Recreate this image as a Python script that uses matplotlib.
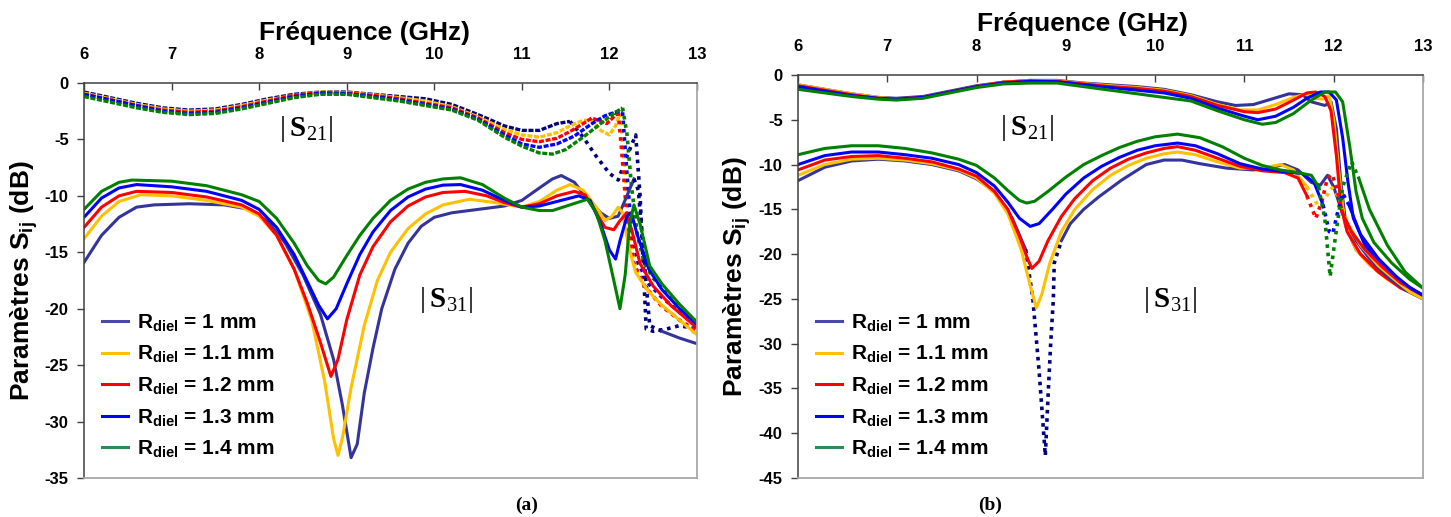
import numpy as np
import matplotlib
matplotlib.use("Agg")
import matplotlib.pyplot as plt
from matplotlib.lines import Line2D

plt.rcParams['mathtext.fontset'] = 'custom'
plt.rcParams['mathtext.rm'] = 'Liberation Serif'
plt.rcParams['mathtext.bf'] = 'Liberation Serif:bold'
plt.rcParams['axes.unicode_minus'] = False

# ---------------- data ----------------
labels = ["1 mm", "1.1 mm", "1.2 mm", "1.3 mm", "1.4 mm"]

# panel (a) |S21|
a21_f = [
    [6.0, 6.3, 6.6, 6.9, 7.2, 7.5, 7.8, 8.1, 8.4, 8.7, 9.0, 9.3, 9.6, 9.9, 10.2, 10.5, 10.8, 11.0, 11.2, 11.4, 11.55, 11.7, 11.85, 12.0, 12.1, 12.2, 12.3, 12.35, 12.42, 12.5, 12.65, 12.8, 13.0],
    [6.0, 6.3, 6.6, 6.9, 7.2, 7.5, 7.8, 8.1, 8.4, 8.7, 9.0, 9.3, 9.6, 9.9, 10.2, 10.5, 10.8, 11.0, 11.2, 11.4, 11.55, 11.7, 11.8, 11.9, 12.0, 12.07, 12.12, 12.17, 12.22, 12.3, 12.4, 12.6, 12.8, 13.0],
    [6.0, 6.3, 6.6, 6.9, 7.2, 7.5, 7.8, 8.1, 8.4, 8.7, 9.0, 9.3, 9.6, 9.9, 10.2, 10.5, 10.8, 11.0, 11.2, 11.4, 11.55, 11.7, 11.8, 11.9, 11.97, 12.05, 12.1, 12.14, 12.2, 12.28, 12.4, 12.6, 12.8, 13.0],
    [6.0, 6.3, 6.6, 6.9, 7.2, 7.5, 7.8, 8.1, 8.4, 8.7, 9.0, 9.3, 9.6, 9.9, 10.2, 10.5, 10.8, 11.0, 11.2, 11.4, 11.6, 11.8, 11.95, 12.1, 12.15, 12.2, 12.25, 12.33, 12.45, 12.6, 12.8, 13.0],
    [6.0, 6.3, 6.6, 6.9, 7.2, 7.5, 7.8, 8.1, 8.4, 8.7, 9.0, 9.3, 9.6, 9.9, 10.2, 10.5, 10.8, 11.0, 11.2, 11.35, 11.5, 11.7, 11.9, 12.05, 12.15, 12.2, 12.25, 12.32, 12.4, 12.5, 12.7, 12.85, 13.0],
]
a21_v = [
    [-0.8, -1.3, -1.8, -2.2, -2.4, -2.3, -1.9, -1.4, -1.0, -0.8, -0.8, -1.0, -1.2, -1.4, -1.9, -2.8, -3.8, -4.2, -4.2, -3.6, -3.4, -4.8, -6.5, -8.0, -8.6, -6.5, -4.6, -10.0, -21.8, -22.0, -21.8, -21.5, -21.8],
    [-0.9, -1.4, -1.9, -2.3, -2.5, -2.4, -2.0, -1.5, -1.1, -0.8, -0.85, -1.05, -1.3, -1.6, -2.1, -3.0, -4.1, -4.6, -4.8, -4.4, -3.8, -3.3, -3.3, -4.2, -4.6, -3.8, -2.7, -7.0, -12.5, -16.5, -18.0, -19.8, -21.0, -22.3],
    [-1.0, -1.5, -2.0, -2.4, -2.6, -2.5, -2.1, -1.6, -1.1, -0.85, -0.9, -1.1, -1.4, -1.8, -2.2, -3.1, -4.4, -5.0, -5.2, -4.9, -4.3, -3.6, -3.1, -3.4, -3.6, -3.0, -2.6, -6.0, -12.0, -16.0, -18.0, -19.8, -21.0, -22.0],
    [-1.0, -1.5, -2.0, -2.5, -2.7, -2.6, -2.2, -1.7, -1.2, -0.9, -0.95, -1.2, -1.5, -1.9, -2.3, -3.2, -4.6, -5.4, -5.7, -5.4, -4.7, -3.6, -2.9, -2.5, -2.6, -8.0, -13.0, -16.0, -17.8, -19.0, -20.3, -21.6],
    [-1.2, -1.7, -2.2, -2.6, -2.8, -2.7, -2.3, -1.8, -1.3, -1.0, -1.0, -1.3, -1.6, -2.0, -2.4, -3.3, -4.8, -5.6, -6.2, -6.3, -5.9, -4.8, -3.6, -2.7, -2.2, -4.5, -9.0, -13.5, -16.0, -17.3, -19.0, -20.2, -21.2],
]

# panel (a) |S31|
a31_f = [
    [6.0, 6.2, 6.4, 6.6, 6.8, 7.2, 7.6, 7.9, 8.1, 8.3, 8.5, 8.7, 8.85, 8.95, 9.05, 9.12, 9.2, 9.3, 9.4, 9.55, 9.7, 9.85, 10.0, 10.2, 10.5, 10.8, 11.0, 11.2, 11.35, 11.45, 11.6, 11.75, 11.9, 12.0, 12.1, 12.2, 12.28, 12.33, 12.4, 12.46, 12.6, 12.8, 13.0],
    [6.0, 6.2, 6.4, 6.65, 7.0, 7.4, 7.8, 8.0, 8.2, 8.4, 8.6, 8.75, 8.85, 8.9, 8.95, 9.05, 9.2, 9.35, 9.5, 9.7, 9.9, 10.1, 10.4, 10.7, 11.0, 11.2, 11.4, 11.55, 11.7, 11.85, 11.95, 12.03, 12.1, 12.15, 12.22, 12.3, 12.45, 12.6, 12.8, 13.0],
    [6.0, 6.2, 6.4, 6.6, 7.0, 7.4, 7.8, 8.0, 8.2, 8.4, 8.55, 8.7, 8.82, 8.9, 9.0, 9.15, 9.3, 9.5, 9.7, 9.9, 10.1, 10.35, 10.6, 10.8, 11.0, 11.2, 11.4, 11.6, 11.72, 11.85, 11.95, 12.05, 12.12, 12.2, 12.27, 12.35, 12.5, 12.7, 12.85, 13.0],
    [6.0, 6.2, 6.4, 6.6, 7.0, 7.4, 7.8, 8.0, 8.2, 8.4, 8.55, 8.68, 8.78, 8.88, 9.0, 9.15, 9.3, 9.5, 9.7, 9.9, 10.1, 10.3, 10.55, 10.8, 11.0, 11.2, 11.45, 11.65, 11.78, 11.9, 12.0, 12.07, 12.12, 12.2, 12.25, 12.32, 12.45, 12.6, 12.8, 13.0],
    [6.0, 6.2, 6.4, 6.55, 7.0, 7.4, 7.8, 8.0, 8.2, 8.4, 8.55, 8.68, 8.76, 8.85, 9.0, 9.15, 9.3, 9.5, 9.7, 9.9, 10.1, 10.3, 10.55, 10.8, 11.0, 11.2, 11.35, 11.55, 11.75, 11.85, 11.95, 12.05, 12.12, 12.18, 12.23, 12.28, 12.35, 12.46, 12.6, 12.8, 13.0],
]
a31_v = [
    [-15.9, -13.5, -11.9, -11.0, -10.8, -10.7, -10.8, -11.2, -12.3, -14.2, -17.0, -20.5, -24.5, -28.5, -33.2, -32.0, -27.5, -23.5, -20.0, -16.5, -14.2, -12.7, -11.9, -11.5, -11.2, -10.9, -10.4, -9.3, -8.5, -8.2, -8.8, -10.3, -11.5, -12.0, -11.8, -10.0, -8.5, -9.5, -16.0, -21.5, -22.0, -22.6, -23.1],
    [-13.8, -11.8, -10.5, -9.9, -10.0, -10.4, -11.0, -11.8, -13.5, -16.5, -21.0, -26.5, -31.5, -33.0, -31.5, -27.0, -21.5, -17.5, -15.0, -12.9, -11.6, -10.8, -10.3, -10.6, -11.0, -10.5, -9.5, -9.0, -9.5, -11.0, -12.2, -11.8, -11.0, -11.5, -14.5, -16.8, -18.5, -19.7, -21.0, -22.3],
    [-12.8, -11.0, -10.0, -9.6, -9.7, -10.1, -10.8, -11.6, -13.5, -16.5, -19.5, -23.0, -26.0, -24.5, -21.0, -17.0, -14.5, -12.3, -10.9, -10.1, -9.7, -9.6, -10.0, -10.6, -11.0, -10.7, -10.0, -9.6, -9.9, -11.5, -12.8, -13.0, -12.2, -11.5, -13.5, -16.0, -18.0, -19.7, -20.7, -21.7],
    [-11.9, -10.2, -9.3, -9.0, -9.2, -9.6, -10.4, -11.2, -12.8, -15.2, -17.6, -19.7, -20.9, -20.0, -17.8, -15.2, -13.2, -11.3, -10.1, -9.4, -9.05, -9.0, -9.5, -10.4, -11.0, -10.9, -10.4, -10.0, -10.4, -12.5, -14.8, -15.6, -14.0, -11.8, -11.5, -13.5, -16.5, -18.3, -20.0, -21.4],
    [-11.2, -9.6, -8.8, -8.6, -8.7, -9.1, -9.9, -10.5, -12.0, -14.2, -16.2, -17.5, -17.8, -17.2, -15.3, -13.5, -12.0, -10.4, -9.4, -8.8, -8.5, -8.4, -9.0, -10.2, -11.0, -11.3, -11.3, -10.8, -10.3, -11.5, -14.0, -17.5, -20.0, -17.0, -12.5, -10.8, -12.5, -16.2, -17.8, -19.6, -21.2],
]

# panel (b) |S21|
b21_f = [
    [6.0, 6.3, 6.6, 6.9, 7.1, 7.4, 7.7, 8.0, 8.3, 8.6, 8.9, 9.2, 9.5, 9.8, 10.1, 10.4, 10.7, 10.9, 11.1, 11.3, 11.5, 11.65, 11.75, 11.9, 11.97, 12.03, 12.08, 12.14, 12.25, 12.4, 12.6, 12.8, 13.0],
    [6.0, 6.3, 6.6, 6.9, 7.1, 7.4, 7.7, 8.0, 8.3, 8.6, 8.9, 9.2, 9.5, 9.8, 10.1, 10.4, 10.7, 10.95, 11.15, 11.35, 11.55, 11.7, 11.8, 11.88, 11.95, 12.0, 12.06, 12.12, 12.25, 12.4, 12.6, 12.8, 13.0],
    [6.0, 6.3, 6.6, 6.9, 7.1, 7.4, 7.7, 8.0, 8.3, 8.6, 8.9, 9.2, 9.5, 9.8, 10.1, 10.4, 10.7, 11.0, 11.15, 11.35, 11.55, 11.7, 11.8, 11.9, 11.97, 12.03, 12.08, 12.15, 12.3, 12.5, 12.75, 13.0],
    [6.0, 6.3, 6.6, 6.9, 7.1, 7.4, 7.7, 8.0, 8.3, 8.6, 8.9, 9.2, 9.5, 9.8, 10.1, 10.4, 10.7, 11.0, 11.15, 11.35, 11.55, 11.7, 11.85, 11.95, 12.03, 12.1, 12.16, 12.22, 12.35, 12.55, 12.8, 13.0],
    [6.0, 6.3, 6.6, 6.9, 7.1, 7.4, 7.7, 8.0, 8.3, 8.6, 8.9, 9.2, 9.5, 9.8, 10.1, 10.4, 10.7, 11.0, 11.2, 11.35, 11.55, 11.75, 11.9, 12.02, 12.1, 12.18, 12.25, 12.32, 12.45, 12.65, 12.85, 13.0],
]
b21_v = [
    [-1.1, -1.6, -2.1, -2.5, -2.6, -2.4, -1.8, -1.2, -0.8, -0.6, -0.6, -0.9, -1.1, -1.3, -1.6, -2.2, -3.0, -3.4, -3.3, -2.7, -2.1, -2.2, -3.0, -3.4, -3.0, -6.0, -12.0, -17.0, -19.5, -21.0, -22.5, -23.8, -25.0],
    [-1.1, -1.6, -2.1, -2.5, -2.7, -2.5, -1.9, -1.3, -0.8, -0.6, -0.65, -0.95, -1.2, -1.4, -1.7, -2.3, -3.3, -3.9, -3.9, -3.3, -2.5, -2.1, -2.6, -2.7, -2.3, -5.0, -11.0, -16.5, -19.5, -21.2, -22.8, -24.0, -25.0],
    [-1.2, -1.7, -2.2, -2.6, -2.7, -2.5, -1.9, -1.3, -0.8, -0.65, -0.7, -1.0, -1.3, -1.5, -1.8, -2.4, -3.4, -4.1, -4.2, -3.8, -2.8, -2.0, -1.9, -2.4, -4.0, -9.0, -14.5, -17.5, -20.0, -22.0, -23.8, -24.8],
    [-1.3, -1.8, -2.3, -2.6, -2.7, -2.5, -1.9, -1.3, -0.9, -0.7, -0.75, -1.1, -1.4, -1.7, -2.0, -2.6, -3.7, -4.6, -5.0, -4.6, -3.6, -2.6, -1.9, -1.9, -2.8, -7.0, -12.0, -16.0, -19.0, -21.5, -23.5, -24.6],
    [-1.6, -2.0, -2.4, -2.7, -2.8, -2.6, -2.0, -1.4, -1.0, -0.9, -0.9, -1.3, -1.7, -2.1, -2.5, -2.9, -4.0, -5.0, -5.5, -5.3, -4.3, -2.8, -1.9, -1.9, -3.0, -8.0, -13.0, -16.0, -18.7, -21.0, -22.8, -23.8],
]

# panel (b) |S31|
b31_f = [
    [6.0, 6.3, 6.6, 6.9, 7.2, 7.5, 7.8, 8.0, 8.2, 8.4, 8.55, 8.63, 8.7, 8.77, 8.8, 8.83, 8.86, 8.87, 8.95, 9.05, 9.2, 9.37, 9.63, 9.9, 10.1, 10.3, 10.5, 10.8, 11.1, 11.3, 11.45, 11.6, 11.75, 11.85, 11.93, 12.0, 12.1, 12.25, 12.4, 12.6, 12.8, 13.0],
    [6.0, 6.3, 6.6, 6.9, 7.2, 7.5, 7.8, 8.0, 8.2, 8.35, 8.5, 8.6, 8.67, 8.73, 8.82, 8.95, 9.1, 9.3, 9.5, 9.7, 9.9, 10.1, 10.25, 10.45, 10.7, 10.95, 11.2, 11.4, 11.55, 11.7, 11.82, 11.9, 11.98, 12.05, 12.15, 12.3, 12.5, 12.7, 12.85, 13.0],
    [6.0, 6.3, 6.6, 6.9, 7.2, 7.5, 7.8, 8.0, 8.2, 8.35, 8.48, 8.57, 8.62, 8.7, 8.8, 8.95, 9.1, 9.3, 9.5, 9.7, 9.9, 10.1, 10.25, 10.45, 10.7, 10.95, 11.2, 11.45, 11.6, 11.7, 11.8, 11.87, 11.93, 11.98, 12.03, 12.1, 12.2, 12.35, 12.55, 12.75, 13.0],
    [6.0, 6.3, 6.6, 6.9, 7.2, 7.5, 7.8, 8.0, 8.2, 8.35, 8.48, 8.6, 8.7, 8.85, 9.0, 9.2, 9.4, 9.6, 9.8, 10.0, 10.25, 10.45, 10.7, 10.95, 11.2, 11.45, 11.65, 11.78, 11.88, 11.95, 11.99, 12.04, 12.1, 12.17, 12.3, 12.5, 12.7, 12.85, 13.0],
    [6.0, 6.3, 6.6, 6.9, 7.2, 7.5, 7.8, 8.0, 8.2, 8.35, 8.48, 8.56, 8.65, 8.8, 9.0, 9.2, 9.4, 9.6, 9.8, 10.0, 10.25, 10.5, 10.75, 11.0, 11.2, 11.4, 11.6, 11.75, 11.83, 11.9, 11.96, 12.02, 12.1, 12.2, 12.28, 12.4, 12.6, 12.8, 13.0],
]
b31_v = [
    [-11.8, -10.3, -9.6, -9.4, -9.6, -10.0, -10.7, -11.6, -13.0, -16.0, -19.5, -25.0, -33.0, -42.5, -36.0, -30.0, -25.0, -21.0, -18.5, -16.6, -15.0, -13.6, -11.7, -10.0, -9.5, -9.5, -9.9, -10.4, -10.6, -10.3, -10.0, -10.6, -12.0, -12.3, -11.2, -12.5, -15.5, -18.5, -20.5, -22.5, -24.0, -25.0],
    [-11.2, -10.0, -9.4, -9.3, -9.5, -9.9, -10.6, -11.5, -13.2, -15.5, -19.5, -23.5, -26.0, -24.5, -21.0, -17.5, -15.0, -12.8, -11.2, -10.1, -9.3, -8.8, -8.6, -8.9, -9.7, -10.4, -10.4, -10.0, -10.6, -12.5, -14.5, -13.8, -12.6, -13.5, -16.5, -19.0, -21.3, -23.0, -24.2, -25.0],
    [-10.6, -9.5, -9.1, -9.0, -9.3, -9.7, -10.5, -11.3, -13.0, -15.0, -18.0, -20.5, -21.6, -20.8, -18.5, -15.8, -13.8, -11.8, -10.4, -9.4, -8.7, -8.2, -8.0, -8.4, -9.3, -10.2, -10.7, -10.9, -11.5, -13.5, -16.0, -14.0, -11.5, -11.1, -12.5, -15.5, -17.5, -19.5, -21.5, -23.2, -24.6],
    [-10.0, -9.0, -8.6, -8.6, -8.9, -9.3, -10.0, -10.9, -12.4, -14.2, -16.0, -16.9, -16.6, -15.0, -13.3, -11.5, -10.2, -9.2, -8.4, -7.9, -7.6, -7.9, -8.8, -9.9, -10.5, -10.8, -11.0, -12.0, -14.5, -17.5, -17.7, -15.5, -13.2, -14.5, -17.8, -20.5, -22.5, -23.7, -24.6],
    [-8.9, -8.2, -7.9, -7.9, -8.2, -8.7, -9.4, -10.1, -11.5, -12.9, -14.0, -14.3, -14.1, -13.0, -11.4, -10.0, -9.0, -8.1, -7.4, -6.9, -6.6, -7.0, -8.0, -9.3, -10.1, -10.6, -10.9, -11.2, -12.5, -16.0, -22.5, -18.0, -12.5, -9.7, -11.5, -15.0, -19.0, -22.0, -23.8],
]

# ---------------- styling ----------------
solid_c = ["#34349a", "#FFC000", "#FF0000", "#0000FF", "#008000"]
dot_c = ["#000080", "#FFC000", "#FF0000", "#0000FF", "#008000"]
leg_c = ["#4a4aa6", "#FFC000", "#FF0000", "#0000FF", "#2e8b57"]

# frequency ranges drawn dotted (steep parts)
a21_dot = [(11.55, 13.0), (12.12, 13.0), (12.1, 13.0), (12.15, 13.0), (12.15, 13.0)]
a31_dot = [(12.28, 12.6), None, None, None, None]
b21_dot = [None, None, None, None, None]
b31_dot = [(8.55, 8.95), (11.7, 12.15), (11.7, 12.1), (11.85, 12.17), (11.83, 12.28)]

FS = "Liberation Sans"


def draw(ax, f, v, col, dcol, dot, lw=2.2, base_ls="-"):
    f = np.asarray(f)
    v = np.asarray(v)
    if dot is None:
        ax.plot(f, v, color=col, lw=lw, ls=base_ls)
        return
    i0 = int(np.searchsorted(f, dot[0]))
    i1 = int(np.searchsorted(f, dot[1]))
    ax.plot(f[:i0 + 1], v[:i0 + 1], color=col, lw=lw, ls=base_ls)
    ax.plot(f[i0:i1 + 1], v[i0:i1 + 1], color=dcol, lw=2.6, ls=(0, (1, 1.3)))
    if i1 < len(f) - 1:
        ax.plot(f[i1:], v[i1:], color=col, lw=lw, ls=base_ls)


def style_axes(ax, ymin, title_x, title_y, ylab_x):
    ax.set_xlim(6, 13)
    ax.set_ylim(ymin, 0)
    ax.set_xticks(range(6, 14))
    ax.set_yticks(range(ymin, 1, 5))
    ax.xaxis.tick_top()
    ax.xaxis.set_label_position("top")
    ax.tick_params(axis="x", direction="in", length=5, pad=15, width=1, color="#404040")
    ax.tick_params(axis="y", direction="out", length=5, pad=6, width=1, color="#404040")
    for lab in ax.get_xticklabels() + ax.get_yticklabels():
        lab.set_fontfamily(["Liberation Sans Narrow", FS])
        lab.set_fontweight("bold")
        lab.set_fontsize(12)
    for s in ["left", "top"]:
        ax.spines[s].set_color("#404040")
        ax.spines[s].set_linewidth(1.1)
    for s in ["right", "bottom"]:
        ax.spines[s].set_color("#a8a8a8")
        ax.spines[s].set_linewidth(1.3)
    ax.set_xlabel("Fréquence (GHz)", fontsize=19, family=FS, weight="bold")
    ax.xaxis.set_label_coords(title_x, title_y)
    ax.set_ylabel(r"Paramètres S$_{\mathregular{ij}}$ (dB)", fontsize=19, family=FS, weight="bold")
    ax.yaxis.set_label_coords(ylab_x, 0.5)
    handles = [Line2D([], [], color=c, lw=2.2) for c in leg_c]
    names = [r"R$_{\mathregular{diel}}$ = " + s for s in labels]
    leg = ax.legend(handles, names, loc="lower left", bbox_to_anchor=(0.0, 0.0),
                    frameon=False, handlelength=1.25, handletextpad=0.45,
                    labelspacing=0.48, borderaxespad=0.45,
                    prop={"family": FS, "weight": "bold", "size": 15})
    return leg


fig = plt.figure(figsize=(14.51, 5.17), dpi=100)
ax1 = fig.add_axes([84 / 1451, 1 - 478 / 517, 613 / 1451, 395 / 517])
ax2 = fig.add_axes([798 / 1451, 1 - 478 / 517, 625 / 1451, 403 / 517])

for i in range(5):
    draw(ax1, a21_f[i], a21_v[i], dot_c[i], dot_c[i], a21_dot[i], lw=2.4, base_ls=(0, (1.5, 0.5)))
for i in range(5):
    draw(ax1, a31_f[i], a31_v[i], solid_c[i], dot_c[i], a31_dot[i])
for i in range(5):
    draw(ax2, b21_f[i], b21_v[i], solid_c[i], dot_c[i], b21_dot[i])
for i in range(5):
    draw(ax2, b31_f[i], b31_v[i], solid_c[i], dot_c[i], b31_dot[i])

style_axes(ax1, -35, 0.458, 1.108, -0.072)
style_axes(ax2, -45, 0.455, 1.11, -0.072)

sfont = dict(fontsize=21, ha="center", va="center", family="Liberation Serif")
ax1.text(8.53, -4.1, r"$|\,\mathbf{S}_{21}|$", **sfont)
ax1.text(10.13, -19.2, r"$|\,\mathbf{S}_{31}|$", **sfont)
ax2.text(8.56, -5.9, r"$|\,\mathbf{S}_{21}|$", **sfont)
ax2.text(10.17, -25.1, r"$|\,\mathbf{S}_{31}|$", **sfont)

fig.text(527 / 1451, 1 - 505 / 517, "(a)", ha="center", va="center",
         fontsize=14, family="Liberation Serif", weight="bold")
fig.text(990 / 1451, 1 - 505 / 517, "(b)", ha="center", va="center",
         fontsize=14, family="Liberation Serif", weight="bold")

fig.savefig("out.png", dpi=100)
